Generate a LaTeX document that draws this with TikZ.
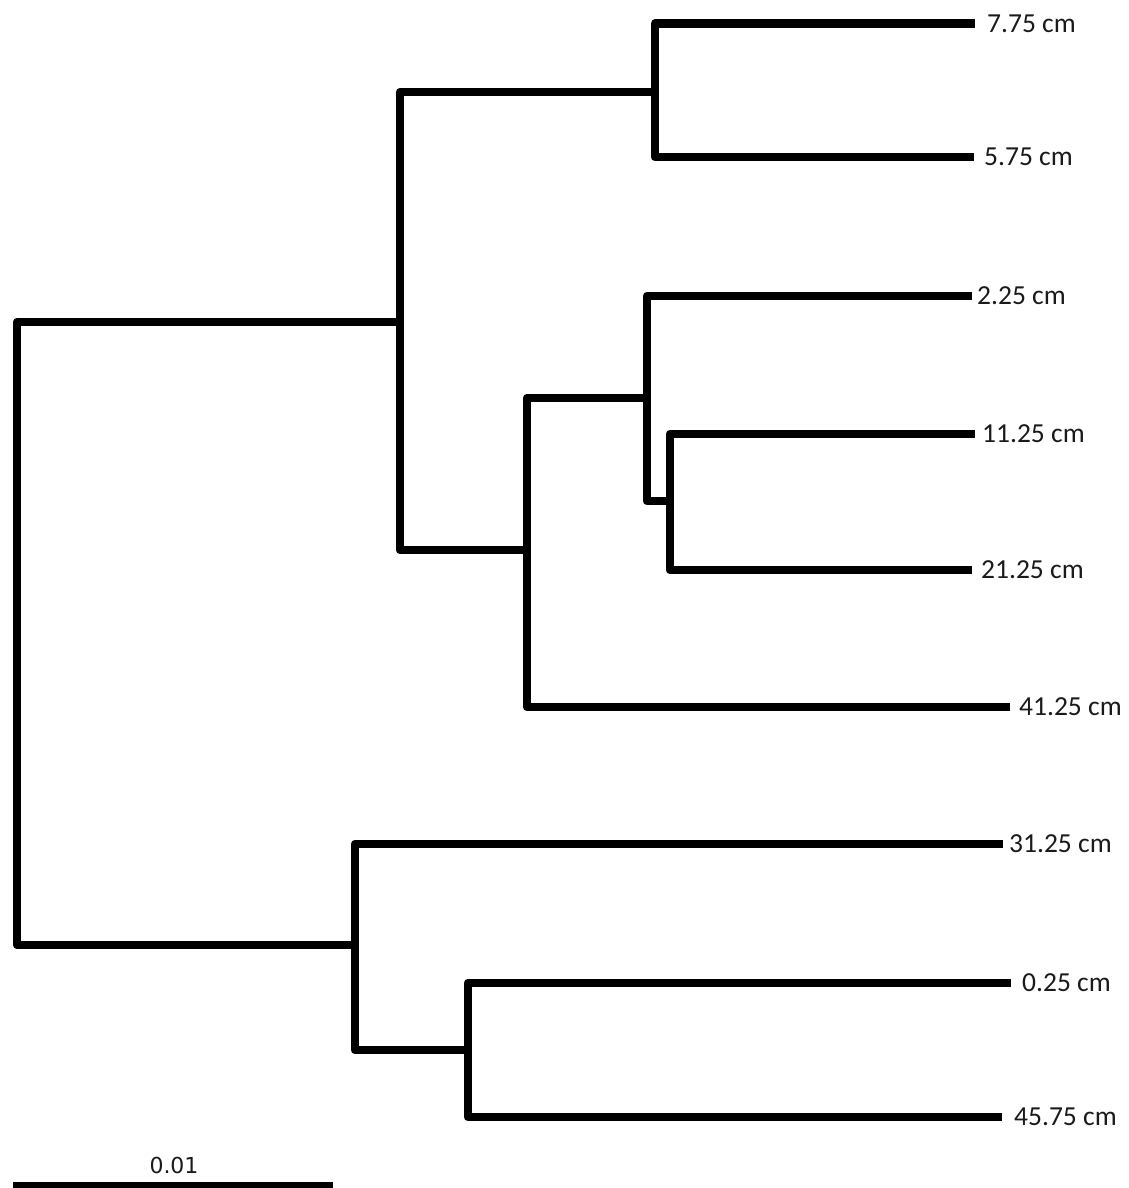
\documentclass[tikz,border=0pt]{standalone}
\usepackage{fontspec}
\setmainfont{Carlito}
\newfontfamily\barfont{DejaVu Sans}
\usetikzlibrary{positioning}
\definecolor{ink}{HTML}{1A1A1A}
\begin{document}
\begin{tikzpicture}[x=1pt,y=-1pt,
  branch/.style={line width=8.5pt, line join=round, line cap=butt, black},
  leaf/.style={anchor=west, inner sep=0pt, text=ink, font=\fontsize{27.5}{30}\selectfont},
  barlabel/.style={inner sep=0pt, text=ink, font=\barfont\fontsize{22}{24}\selectfont},
]
\useasboundingbox (0,0) rectangle (1129,1188);

% split points of the tree
\coordinate (root) at (17,633);
\coordinate (nA) at (400,322);
\coordinate (nB) at (655,92);
\coordinate (nC) at (527,550);
\coordinate (nD) at (647,398);
\coordinate (nE) at (670,501);
\coordinate (nF) at (355,945);
\coordinate (nG) at (468,1050);

% branch tips
\coordinate (t1) at (975,23.5);
\coordinate (t2) at (974,157);
\coordinate (t3) at (972,296);
\coordinate (t4) at (975,434);
\coordinate (t5) at (972,570);
\coordinate (t6) at (1010,707);
\coordinate (t7) at (1003,844);
\coordinate (t8) at (1011,983);
\coordinate (t9) at (1002,1117);

% tip labels
\node[leaf, right=12pt of t1] (l1) {7.75 cm};
\node[leaf, right=10pt of t2] (l2) {5.75 cm};
\node[leaf, right=5pt of t3] (l3) {2.25 cm};
\node[leaf, right=7pt of t4] (l4) {11.25 cm};
\node[leaf, right=9pt of t5] (l5) {21.25 cm};
\node[leaf, right=9pt of t6] (l6) {41.25 cm};
\node[leaf, right=6pt of t7] (l7) {31.25 cm};
\node[leaf, right=11pt of t8] (l8) {0.25 cm};
\node[leaf, right=12pt of t9] (l9) {45.75 cm};

% branches
\draw[branch] (nA) -| (root) |- (nF);
\draw[branch] (nB) -| (nA) |- (nC);
\draw[branch] (t1) -| (nB) |- (t2);
\draw[branch] (nD) -| (nC) |- (t6);
\draw[branch] (t3) -| (nD) |- (nE);
\draw[branch] (t4) -| (nE) |- (t5);
\draw[branch] (t7) -| (nF) |- (nG);
\draw[branch] (t8) -| (nG) |- (t9);

% scale bar
\coordinate (s1) at (13,1186);
\coordinate (s2) at (333,1186);
\draw[branch] (s1) -- (s2);
\node[barlabel] (sl) at (174,1165) {0.01};
\end{tikzpicture}
\end{document}
